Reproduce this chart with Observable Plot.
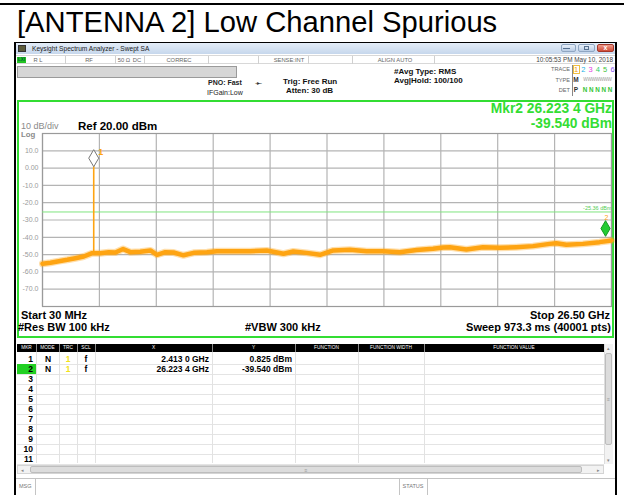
<!DOCTYPE html>
<html><head><meta charset="utf-8">
<script src="https://cdn.jsdelivr.net/npm/d3@7"></script>
<script src="https://cdn.jsdelivr.net/npm/@observablehq/plot@0.6"></script>
<style>
body{margin:0;background:#fff;}
#root{position:relative;width:624px;height:495px;overflow:hidden;font-family:"Liberation Sans",Arial,sans-serif;background:#fff;}
.a{position:absolute;white-space:nowrap;box-sizing:border-box;}
svg{position:absolute;}
</style></head><body><div id="root"></div>
<script>
// ---------- data ----------
const titleText = "[ANTENNA 2] Low Channel Spurious";
const freqStartGHz = 0.03, freqStopGHz = 26.5;
const refLevelDbm = 20, bottomDbm = -80;
const yTicks = [10, 0, -10, -20, -30, -40, -50, -60, -70];
const yTickLabels = ["10.0", "0.00", "-10.0", "-20.0", "-30.0", "-40.0", "-50.0", "-60.0", "-70.0"];
const xGridGHz = [0.03, 2.677, 5.324, 7.971, 10.618, 13.265, 15.912, 18.559, 21.206, 23.853, 26.5];
const traceFreqGHz = [0.03, 0.40, 0.79, 1.18, 1.56, 1.95, 2.34, 2.72, 3.11, 3.42, 3.78, 4.12, 4.58, 5.05, 5.36, 5.74, 6.13, 6.59, 7.06, 7.68, 8.14, 8.91, 9.69, 10.46, 11.24, 11.70, 12.32, 12.94, 13.56, 14.33, 15.11, 15.88, 16.65, 17.43, 18.20, 18.67, 18.98, 19.75, 20.52, 21.30, 22.07, 22.85, 23.62, 23.93, 24.40, 25.17, 25.94, 26.50];
const traceDbm = [-55.3, -54.7, -53.8, -53.0, -52.1, -51.1, -49.2, -49.2, -48.6, -48.8, -46.8, -48.6, -48.4, -47.6, -50.1, -48.6, -48.8, -50.4, -49.0, -48.6, -48.0, -48.0, -48.0, -47.6, -49.5, -48.2, -49.0, -50.1, -47.6, -47.2, -48.0, -48.0, -48.6, -47.4, -46.6, -45.9, -45.7, -47.0, -45.7, -46.1, -45.7, -45.1, -43.8, -43.4, -44.3, -43.8, -42.8, -41.8];
const markerNames = ["1", "2"];
const markerFreqGHz = [2.4130, 26.2234];
const markerDbm = [0.825, -39.540];
const markerXText = ["2.413 0 GHz", "26.223 4 GHz"];
const markerYText = ["0.825 dBm", "-39.540 dBm"];
const spikeBaseDbm = -49.2;
const limitDbm = -25.36;
const limitLabel = "-25.36 dBm";
const tableHeaders = ["MKR", "MODE", "TRC", "SCL", "X", "Y", "FUNCTION", "FUNCTION WIDTH", "FUNCTION VALUE"];
const tableRows = ["1","2","3","4","5","6","7","8","9","10","11"];
const toolbarItems = ["R L", "RF", "50 Ω", "DC", "CORREC", "SENSE:INT", "ALIGN AUTO"];
const traceNums = ["1","2","3","4","5","6"];

// ---------- helpers ----------
const root = document.getElementById("root");
function box(x, y, w, h, css) {
  const d = document.createElement("div"); d.className = "a";
  Object.assign(d.style, {left: x + "px", top: y + "px", width: w + "px", height: h + "px"}, css || {});
  root.appendChild(d); return d;
}
function txt(s, x, y, size, opt = {}) {
  const d = document.createElement("div"); d.className = "a"; d.textContent = s;
  const st = d.style;
  st.fontSize = size + "px"; st.lineHeight = "40px"; st.top = (y - 20) + "px"; st.height = "40px";
  st.color = opt.color || "#000"; st.fontWeight = opt.bold ? "bold" : "normal";
  const al = opt.align || "l";
  if (al === "l") st.left = x + "px";
  else if (al === "r") { st.right = (624 - x) + "px"; st.textAlign = "right"; }
  else { st.left = (x - 150) + "px"; st.width = "300px"; st.textAlign = "center"; }
  if (opt.ls) st.letterSpacing = opt.ls;
  root.appendChild(d); return d;
}

// ---------- page frame + title ----------
box(0, 3, 624, 2, {background: "#000"});
txt(titleText, 17, 22, 29.2, {});

// window
box(14, 42, 603, 470, {border: "2px solid #000", background: "#fff"});
box(16, 43, 599, 11, {background: "linear-gradient(#e4edf8,#c6d7ec)"});
box(18, 45, 8, 7, {background: "#5a5a3a", border: "1px solid #333"});
txt("Keysight Spectrum Analyzer - Swept SA", 32, 48.5, 6.6, {color: "#222"});
box(561, 44, 15, 8, {background: "linear-gradient(#e8f0fa,#b9cce4)", border: "1px solid #8fa6c2", borderRadius: "2px"});
box(563, 47.5, 7, 1.5, {background: "#56708f"});
box(578, 44, 17, 8, {background: "linear-gradient(#e8f0fa,#b9cce4)", border: "1px solid #8fa6c2", borderRadius: "2px"});
box(584, 46, 5, 4, {border: "1px solid #56708f"});
box(597, 44, 17, 8, {background: "linear-gradient(#ef9c8c,#cf4b36)", border: "1px solid #a5382a", borderRadius: "2px"});
txt("x", 605.5, 47.5, 7, {color: "#fff", bold: true, align: "c"});

// toolbar row
box(16, 55, 599, 9, {borderTop: "1px solid #d8d8d8", borderBottom: "1px solid #d8d8d8"});
box(17, 57, 9, 6, {background: "#22c322"});
txt("LXI", 21.5, 60, 4.5, {color: "#063", bold: true, align: "c"});
[65, 115, 144, 208, 258, 308, 352, 434].forEach(x => box(x, 56, 1, 8, {background: "#d0d0d0"}));
const tbPos = [[toolbarItems[0], 38, "c"], [toolbarItems[1], 89, "c"], [toolbarItems[2], 124, "c"], [toolbarItems[3], 137, "c"], [toolbarItems[4], 179, "c"], [toolbarItems[5], 289, "c"], [toolbarItems[6], 395, "c"]];
tbPos.forEach(([s, x, a]) => txt(s, x, 59.5, 5.8, {color: "#666", align: a}));
txt("10:05:53 PM May 10, 2018", 613, 60, 6.4, {color: "#444", align: "r"});

// gray bar
box(17, 66, 220, 12, {background: "#d6d6d6", border: "1px solid #9a9a9a"});

// info texts
txt("PNO: Fast", 208, 83, 7, {color: "#222", bold: true});
txt("IFGain:Low", 207, 92.5, 7, {color: "#222"});
txt("--▸--", 258, 83, 6, {color: "#333", align: "c", ls: "-1px"});
txt("Trig: Free Run", 283, 81.5, 8, {color: "#111", bold: true});
txt("Atten: 30 dB", 286, 91, 8, {color: "#111", bold: true});
txt("#Avg Type: RMS", 394, 71.5, 8, {color: "#111", bold: true});
txt("Avg|Hold: 100/100", 394, 81, 8, {color: "#111", bold: true});
txt("TRACE", 570, 69, 5.6, {color: "#666", align: "r"});
txt("TYPE", 570, 79.5, 5.6, {color: "#666", align: "r"});
txt("DET", 570, 90, 5.6, {color: "#666", align: "r"});
box(572, 65, 1, 31, {background: "#888"});
const tnColors = ["#f0a000", "#22b3e6", "#e23ee2", "#2ccf6a", "#48c440", "#8a55f0"];
traceNums.forEach((n, i) => txt(n, 576 + i * 7.3, 69.5, 7.5, {color: tnColors[i], align: "c"}));
box(573, 64.5, 7, 9, {border: "1px solid #f0c040"});
txt("M", 576, 80, 6.5, {color: "#333", bold: true, align: "c"});
txt("WWWWWWW", 597.5, 80, 4.6, {color: "#999", align: "c", ls: "-0.3px"});
txt("P", 576, 90, 6.5, {color: "#333", bold: true, align: "c"});
txt("N N N N N", 597.5, 90, 6.3, {color: "#35c435", bold: true, align: "c"});

// ---------- graph box ----------
const GREEN = "#33dd33";
box(17, 100, 597, 238, {border: "2px solid " + GREEN});

const ORANGE = "#fea412";
const trace = traceFreqGHz.map((f, i) => ({f, d: traceDbm[i]}));
const markers = markerFreqGHz.map((f, i) => ({name: markerNames[i], f, d: markerDbm[i]}));
const tallDiamond = {draw(ctx, size) { const r = Math.sqrt(size / Math.PI); ctx.moveTo(0, -1.7 * r); ctx.lineTo(r, 0); ctx.lineTo(0, 1.7 * r); ctx.lineTo(-r, 0); ctx.closePath(); }};

const chart = Plot.plot({
  width: 593, height: 234,
  marginLeft: 23, marginRight: 1, marginTop: 31, marginBottom: 30,
  x: {domain: [freqStartGHz, freqStopGHz], axis: null},
  y: {domain: [bottomDbm, refLevelDbm]},
  style: {background: "transparent", overflow: "visible", fontFamily: "Liberation Sans, Arial, sans-serif"},
  marks: [
    Plot.gridY(yTicks, {stroke: "#b4b4b4", strokeOpacity: 1, strokeWidth: 1.2}),
    Plot.gridX(xGridGHz, {stroke: "#b4b4b4", strokeOpacity: 1, strokeWidth: 1.2}),
    Plot.frame({stroke: "#9a9a9a", strokeWidth: 1.2}),
    Plot.axisY(yTicks, {tickSize: 0, tickPadding: 4, tickFormat: d => yTickLabels[yTicks.indexOf(d)], fontSize: 7, fill: "#9a9a9a", label: null}),
    Plot.ruleY([limitDbm], {stroke: "#7fe47f", strokeWidth: 1}),
    Plot.text([limitLabel], {x: () => freqStopGHz, y: () => limitDbm, text: d => d, textAnchor: "end", dy: -4, fontSize: 5.5, fill: "#55cc55"}),
    Plot.line(trace, {x: "f", y: "d", stroke: ORANGE, strokeWidth: 7, strokeOpacity: 0.35, strokeLinejoin: "round", strokeLinecap: "round"}),
    Plot.line(trace, {x: "f", y: "d", stroke: ORANGE, strokeWidth: 4.5, strokeLinejoin: "round", strokeLinecap: "round"}),
    Plot.ruleX(markers.slice(0, 1), {x: "f", y1: () => spikeBaseDbm, y2: "d", stroke: ORANGE, strokeWidth: 1.6}),
    Plot.dot(markers.slice(0, 1), {x: "f", y: "d", symbol: tallDiamond, r: 5, fill: "white", stroke: "#777", strokeWidth: 1, dy: -8.5}),
    Plot.dot(markers.slice(1, 2), {x: "f", y: "d", symbol: tallDiamond, r: 4.6, fill: "#22cc33", stroke: "#139a22", strokeWidth: 1, dy: -8}),
    Plot.text(markers.slice(0, 1), {x: "f", y: "d", text: "name", dx: 7, dy: -15, fill: ORANGE, fontSize: 9, fontWeight: "bold"}),
    Plot.text(markers.slice(1, 2), {x: "f", y: "d", text: "name", dx: 1, dy: -19, fill: ORANGE, fontSize: 7})
  ]
});
chart.style.left = "19px"; chart.style.top = "102px";
root.appendChild(chart);

txt("10 dB/div", 21, 125.5, 9, {color: "#8a8a8a"});
txt("Log", 21, 135, 7.8, {color: "#8a8a8a", bold: true});
txt("Ref 20.00 dBm", 78, 126, 11.5, {bold: true});
txt("Mkr2 " + markerXText[1], 612, 109, 13.8, {bold: true, color: GREEN, align: "r"});
txt(markerYText[1], 612, 124, 13.8, {bold: true, color: GREEN, align: "r"});
txt("Start 30 MHz", 21, 314.5, 11, {bold: true});
txt("#Res BW 100 kHz", 18, 327, 11, {bold: true});
txt("#VBW 300 kHz", 245, 327, 11, {bold: true});
txt("Stop 26.50 GHz", 610, 314.5, 11, {bold: true, align: "r"});
txt("Sweep  973.3 ms (40001 pts)", 611, 327, 11, {bold: true, align: "r"});

// ---------- marker table ----------
const colEdges = [17, 36, 59, 77, 95, 212, 295, 358, 424, 604];
box(17, 344, 587, 8, {background: "#000"});
colEdges.slice(1, -1).forEach(x => box(x, 344, 1.2, 8, {background: "#888"}));
tableHeaders.forEach((h, i) => txt(h, (colEdges[i] + colEdges[i + 1]) / 2, 348, 4.8, {color: "#fff", align: "c"}));
// body grid
tableRows.forEach((r, i) => box(17, 363.5 + i * 10, 587, 1, {background: "#e4e4e4"}));
colEdges.slice(1, -1).forEach(x => box(x, 352, 1, 111, {background: "#e2e2e2"}));
box(17, 363.5, 19, 10, {background: "#22d022"});
tableRows.forEach((r, i) => txt(r, 33, 359 + i * 10, 8.5, {bold: true, align: "r"}));
markers.forEach((m, i) => {
  const y = 359 + i * 10;
  txt("N", 48, y, 8.5, {bold: true, align: "c"});
  txt("1", 68, y, 8.5, {bold: true, align: "c", color: "#f2e21a"});
  txt("f", 86, y, 8.5, {bold: true, align: "c"});
  txt(markerXText[i], 209, y, 8.5, {bold: true, align: "r"});
  txt(markerYText[i], 292, y, 8.5, {bold: true, align: "r"});
});
// vertical scrollbar
box(604, 344, 9, 120, {background: "#f2f2f2", borderLeft: "1px solid #ddd"});
box(605, 353, 7, 92, {background: "#dcdcdc", border: "1px solid #bdbdbd", borderRadius: "2px"});
txt("▴", 608.5, 347.5, 5, {color: "#888", align: "c"});
txt("▾", 608.5, 459.5, 5, {color: "#888", align: "c"});
txt("≡", 608.5, 399, 5, {color: "#999", align: "c"});
// horizontal scrollbar
box(17, 465, 587, 9, {background: "#f2f2f2", border: "1px solid #d4d4d4"});
box(30, 466, 552, 7, {background: "#dcdcdc", border: "1px solid #bdbdbd", borderRadius: "2px"});
txt("◂", 22, 469.5, 5, {color: "#888", align: "c"});
txt("▸", 598, 469.5, 5, {color: "#888", align: "c"});
txt("≡", 306, 469.5, 5, {color: "#999", align: "c"});
// msg bar
box(16, 478, 599, 1, {background: "#c4c4c4"});
box(35, 478, 1, 17, {background: "#c4c4c4"});
box(399, 478, 1, 17, {background: "#c4c4c4"});
box(427, 478, 1, 17, {background: "#c4c4c4"});
txt("MSG", 19, 486, 5.5, {color: "#777"});
txt("STATUS", 413, 486, 5.5, {color: "#777", align: "c"});
</script></body></html>
